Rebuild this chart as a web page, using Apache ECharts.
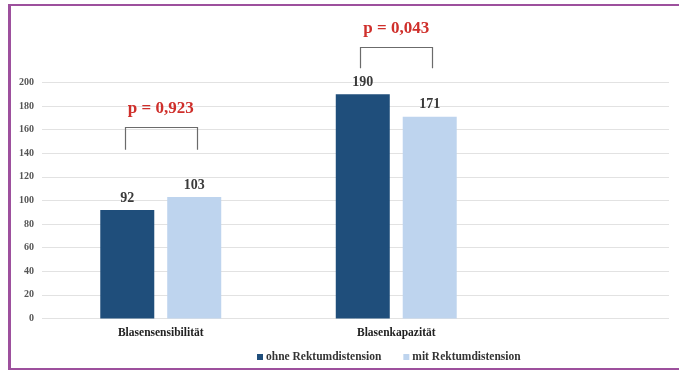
<!DOCTYPE html>
<html>
<head>
<meta charset="utf-8">
<script src="https://cdn.jsdelivr.net/npm/echarts@6/dist/echarts.min.js"></script>
<style>
  html, body { margin: 0; padding: 0; background: #ffffff; }
  #frame {
    position: absolute; left: 8px; top: 4px; width: 690px; height: 362px;
    border-top: 2px solid #9d509d; border-left: 3px solid #9d509d; border-bottom: 2px solid #9d509d;
  }
  #chart { position: absolute; left: 0; top: 0; width: 679px; height: 370px; }
</style>
</head>
<body>
<div id="frame"></div>
<div id="chart"></div>
<script>
// Blasensensibilität und Blasenkapazität, ohne / mit Rektumdistension
const categories = ['Blasensensibilität', 'Blasenkapazität'];
const seriesNames = ['ohne Rektumdistension', 'mit Rektumdistension'];
const ohneValues = [92, 190];
const mitValues = [103, 171];
const yTicks = { min: 0, max: 200, interval: 20 };
// significance brackets: [category index, leg bottom, bracket top]
const bracketSpans = [[0, 143, 162], [1, 212, 230]];
const pLabels = ['p = 0,923', 'p = 0,043'];

const serif = '"Liberation Serif", "Times New Roman", serif';
const BAR_W = 54;
const BRACKET_HALF = 36;

const chart = echarts.init(document.getElementById('chart'), null, { renderer: 'canvas' });

const valueLabel = {
  show: true, position: 'top', distance: 5,
  fontFamily: serif, fontWeight: 'bold', fontSize: 14, color: '#3a3a3a'
};

chart.setOption({
  animation: false,
  backgroundColor: 'transparent',
  grid: [
    { left: 42, right: 10, top: 82.5, bottom: 51.5 },
    { left: 43, right: 165, top: 82.5, bottom: 51.5 }
  ],
  xAxis: [
    { gridIndex: 0, type: 'value', min: 0, max: 1, show: false },
    {
      gridIndex: 1, type: 'category', data: categories,
      axisLine: { show: false }, axisTick: { show: false },
      axisLabel: { margin: 9, fontFamily: serif, fontWeight: 'bold', fontSize: 11.5, color: '#222' }
    }
  ],
  yAxis: [
    {
      gridIndex: 0, type: 'value', min: yTicks.min, max: yTicks.max, interval: yTicks.interval,
      axisLine: { show: false }, axisTick: { show: false },
      axisLabel: { margin: 8, fontFamily: serif, fontWeight: 'bold', fontSize: 10, color: '#555' },
      splitLine: { lineStyle: { color: '#e2e2e2', width: 1 } }
    },
    {
      gridIndex: 1, type: 'value', min: yTicks.min, max: yTicks.max, interval: yTicks.interval,
      show: false, splitLine: { show: false }
    }
  ],
  legend: {
    data: seriesNames,
    left: 252, top: 346,
    itemWidth: 6, itemHeight: 6, itemGap: 22,
    icon: 'rect',
    textStyle: { fontFamily: serif, fontWeight: 'bold', fontSize: 11.5, color: '#333', padding: [0, 0, 0, -2] }
  },
  series: [
    {
      name: seriesNames[0], type: 'bar', xAxisIndex: 1, yAxisIndex: 1,
      data: ohneValues, barWidth: BAR_W, barGap: '24%',
      itemStyle: { color: '#1f4e7b' }, label: valueLabel
    },
    {
      name: seriesNames[1], type: 'bar', xAxisIndex: 1, yAxisIndex: 1,
      data: mitValues, barWidth: BAR_W, barGap: '24%',
      itemStyle: { color: '#bed4ee' }, label: valueLabel
    },
    {
      name: 'brackets', type: 'custom', xAxisIndex: 1, yAxisIndex: 1,
      data: bracketSpans, clip: false, silent: true,
      encode: { x: 0, y: [1, 2] },
      renderItem: function (params, api) {
        const c = api.value(0);
        const bottom = api.coord([c, api.value(1)]);
        const top = api.coord([c, api.value(2)]);
        const x0 = Math.round(top[0] - BRACKET_HALF) + 0.5;
        const x1 = Math.round(top[0] + BRACKET_HALF) + 0.5;
        const yt = Math.round(top[1]) + 0.5;
        const yb = bottom[1];
        return {
          type: 'group',
          children: [
            {
              type: 'polyline',
              shape: { points: [[x0, yb], [x0, yt], [x1, yt], [x1, yb]] },
              style: { stroke: '#6b6b6b', lineWidth: 1.2, fill: null }
            },
            {
              type: 'text',
              style: {
                x: top[0], y: yt - 19,
                text: pLabels[params.dataIndex],
                textAlign: 'center', textVerticalAlign: 'middle',
                fontFamily: serif, fontWeight: 'bold', fontSize: 17, fill: '#cf2f2b'
              }
            }
          ]
        };
      }
    }
  ]
});
</script>
</body>
</html>
